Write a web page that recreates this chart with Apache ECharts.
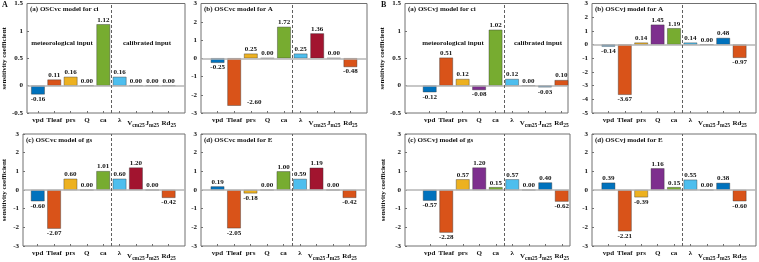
<!DOCTYPE html>
<html>
<head>
<meta charset="utf-8">
<script src="https://cdn.jsdelivr.net/npm/echarts@6/dist/echarts.min.js"></script>
<style>
  html, body { margin: 0; padding: 0; background: #fff; }
  #chart { width: 759px; height: 262px; }
</style>
</head>
<body>
<div id="chart"></div>
<script>
const categories = ["vpd", "Tleaf", "prs", "Q", "ca", "λ", "Vcm25", "Jm25", "Rd25"];
const tickText = ["vpd", "Tleaf", "prs", "Q", "ca", "λ", "{m|V}{s|cm25}", "{m|J}{s|m25}", "{m|Rd}{s|25}"];
const barColors = ["#0072BD", "#D95319", "#EDB120", "#7E2F8E", "#77AC30", "#4DBEEE", "#A2142F", "#0072BD", "#D95319"];

const vcCi = [-0.16, 0.11, 0.16, 0.0, 1.12, 0.16, 0.0, 0.0, 0.0];
const vcA = [-0.25, -2.6, 0.25, 0.0, 1.72, 0.25, 1.36, 0.0, -0.48];
const vcGs = [-0.6, -2.07, 0.6, 0.0, 1.01, 0.6, 1.2, 0.0, -0.42];
const vcE = [0.19, -2.05, -0.18, 0.0, 1.0, 0.59, 1.19, 0.0, -0.42];
const vjCi = [-0.12, 0.51, 0.12, -0.08, 1.02, 0.12, 0.0, -0.03, 0.1];
const vjA = [-0.14, -3.67, 0.14, 1.45, 1.19, 0.14, 0.0, 0.48, -0.97];
const vjGs = [-0.57, -2.28, 0.57, 1.2, 0.15, 0.57, 0.0, 0.4, -0.62];
const vjE = [0.39, -2.21, -0.39, 1.16, 0.15, 0.55, 0.0, 0.38, -0.6];

const titles = [
  "(a) OSCvc model for ci", "(b) OSCvc model for A", "(c) OSCvc model of gs", "(d) OSCvc model for E",
  "(a) OSCvj model for ci", "(b) OSCvj model for A", "(c) OSCvj model of gs", "(d) OSCvj model for E",
];
const yRanges = [[-0.5, 1.5, 0.5], [-3, 3, 1], [-3, 3, 1], [-3, 3, 1], [-0.5, 1.5, 0.5], [-5, 3, 1], [-3, 3, 1], [-3, 3, 1]];
const xRanges = [[0.33, 10], [0, 10], [0.1, 10], [0, 10], [-0.5, 9.4], [0, 10], [-0.5, 9.5], [0, 10]];
const seriesData = [vcCi, vcA, vcGs, vcE, vjCi, vjA, vjGs, vjE];

// left, top, width, height of each plot box
const boxes = [
  [27, 3, 158, 110], [201, 3, 166, 110], [23, 134, 162, 115], [201, 134, 165, 115],
  [405, 3, 163, 110], [592, 3, 164, 110], [405, 134, 165, 115], [592, 134, 164, 115],
];
const yNameGap = [19, 0, 15, 0, 18, 0, 18, 0];

const font = "Liberation Serif";
const ink = "#111";
const grid = [], xAxis = [], yAxis = [], series = [], graphic = [];
const positions = categories.map((c, i) => i + 1);

boxes.forEach(([left, top, width, height], k) => {
  const [ymin, ymax, step] = yRanges[k];
  const pxPerUnit = height / (ymax - ymin);

  // label under a negative bar unless it would run into the frame; then beside it
  function labelFor(v) {
    if (v >= 0) return { position: "top" };
    if ((v - ymin) * pxPerUnit > 10) return { position: "bottom" };
    return { position: "right", distance: 6, offset: [0, (-v * pxPerUnit) / 2 - 4] };
  }

  grid.push({ left, top, width, height, show: true, borderColor: "#707070", borderWidth: 1, backgroundColor: "#fff" });
  xAxis.push({
    type: "value", gridIndex: k, min: xRanges[k][0], max: xRanges[k][1], position: "bottom",
    axisLine: { show: false, onZero: false },
    splitLine: { show: false },
    axisTick: { inside: true, length: 2, customValues: positions, lineStyle: { color: "#707070" } },
    axisLabel: {
      margin: 4, color: ink, fontFamily: font, fontWeight: "bold", fontSize: 7,
      customValues: positions,
      formatter: (v) => tickText[Math.round(v) - 1] || "",
      rich: {
        m: { fontFamily: font, fontWeight: "bold", fontSize: 7, color: ink },
        s: { fontFamily: font, fontWeight: "bold", fontSize: 5.5, color: ink, padding: [6, 0, 0, 0] },
      },
    },
  });
  yAxis.push({
    type: "value", gridIndex: k, min: ymin, max: ymax, interval: step, position: "left",
    name: yNameGap[k] ? "sensitivity coefficient" : "",
    nameLocation: "middle", nameGap: yNameGap[k],
    nameTextStyle: { fontFamily: font, fontWeight: "bold", fontSize: 7, color: ink },
    axisLine: { show: false, onZero: false },
    splitLine: { show: false },
    axisTick: { inside: true, length: 2, lineStyle: { color: "#707070" } },
    axisLabel: { margin: 4, color: ink, fontFamily: font, fontWeight: "bold", fontSize: 7 },
  });
  series.push({
    type: "bar", xAxisIndex: k, yAxisIndex: k, barWidth: 13.5,
    data: seriesData[k].map((v, i) => ({
      value: [i + 1, v],
      itemStyle: { color: barColors[i], borderColor: "#333", borderWidth: 0.4 },
      label: labelFor(v),
    })),
    label: {
      show: true, distance: 1, color: ink, fontFamily: font, fontWeight: "bold", fontSize: 7,
      formatter: (p) => p.value[1].toFixed(2),
    },
    markLine: {
      silent: true, symbol: "none", label: { show: false }, animation: false,
      data: [
        { yAxis: 0, lineStyle: { color: "#b4b4b4", width: 1.5, type: "solid" } },
        { xAxis: 5.5, lineStyle: { color: "#606060", width: 1, type: [3, 2] } },
      ],
    },
    animation: false,
  });
  graphic.push({
    type: "text", left: left + 3, top: top + 3, z: 10,
    style: { text: titles[k], fontFamily: font, fontWeight: "bold", fontSize: 7, fill: ink },
  });
});

// group notes in the ci panels
[[62, 147], [453, 538]].forEach(([mx, cx]) => {
  graphic.push({ type: "text", x: mx, y: 43, z: 10, style: { text: "meteorological input", align: "center", verticalAlign: "middle", fontFamily: font, fontWeight: "bold", fontSize: 7, fill: ink } });
  graphic.push({ type: "text", x: cx, y: 43, z: 10, style: { text: "calibrated input", align: "center", verticalAlign: "middle", fontFamily: font, fontWeight: "bold", fontSize: 7, fill: ink } });
});
graphic.push({ type: "text", left: 2, top: 1, style: { text: "A", fontFamily: font, fontWeight: "bold", fontSize: 8, fill: ink } });
graphic.push({ type: "text", left: 381, top: 1, style: { text: "B", fontFamily: font, fontWeight: "bold", fontSize: 8, fill: ink } });

const chart = echarts.init(document.getElementById("chart"), null, { renderer: "canvas" });
chart.setOption({ animation: false, grid, xAxis, yAxis, series, graphic });
</script>
</body>
</html>
